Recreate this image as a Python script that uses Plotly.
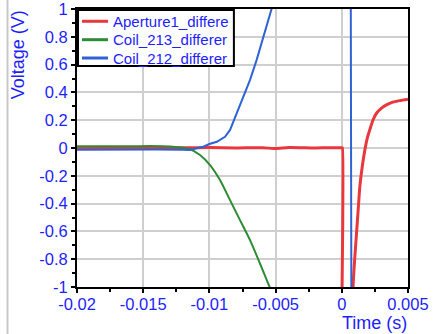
import plotly.graph_objects as go

# ---- data ----
red_t = [-0.02, -0.018, -0.016, -0.014, -0.012, -0.010, -0.008, -0.006, -0.005, -0.004,
         -0.002, -0.001, 0.0, 0.00005, 0.00015, 0.0005, 0.00085, 0.00098, 0.00111,
         0.00124, 0.00136, 0.00155, 0.00174, 0.00192, 0.00211, 0.00235, 0.00262,
         0.00298, 0.00337, 0.00385, 0.00437, 0.005]
red_v = [0.0, 0.003, 0.0, 0.004, 0.002, 0.003, 0.0, 0.002, -0.004, 0.003,
         0.0, 0.002, 0.001, 0.0, -3.0, -3.0, -1.0, -0.79, -0.615,
         -0.44, -0.279, -0.13, -0.014, 0.07, 0.13, 0.2, 0.25,
         0.285, 0.31, 0.33, 0.341, 0.351]

green_t = [-0.02, -0.018, -0.016, -0.01447, -0.01297, -0.01146, -0.01071, -0.00995,
           -0.0092, -0.00844, -0.00769, -0.00693, -0.00618, -0.00548, -0.005, -0.003]
green_v = [0.012, 0.013, 0.012, 0.014, 0.01, -0.009, -0.05, -0.123,
           -0.231, -0.375, -0.519, -0.663, -0.831, -0.993, -1.1, -3.0]

blue_t = [-0.02, -0.018, -0.016, -0.014, -0.012, -0.0115, -0.01046, -0.0100, -0.00944,
          -0.00882, -0.00844, -0.00794, -0.00744, -0.00693, -0.00643, -0.00593,
          -0.00543, -0.0050, -0.004, 0.0006, 0.0008, 0.001, 0.005]
blue_v = [-0.012, -0.01, -0.013, -0.011, -0.012, -0.014, 0.009, 0.029, 0.045,
          0.081, 0.13, 0.25, 0.37, 0.49, 0.634, 0.80,
          0.947, 1.1, 2.0, 5.0, -5.0, -5.0, -5.0]

series_names = ["Aperture1_differe", "Coil_213_differer", "Coil_212_differer"]
series_colors = ["#e8383d", "#2e8b35", "#2f62d4"]
series_widths = [3, 2, 2]

x_tickvals = [-0.02, -0.015, -0.01, -0.005, 0.0, 0.005]
x_ticktext = ["-0.02", "-0.015", "-0.01", "-0.005", "0", "0.005"]
y_tickvals = [1, 0.8, 0.6, 0.4, 0.2, 0, -0.2, -0.4, -0.6, -0.8, -1]
y_ticktext = ["1", "0.8", "0.6", "0.4", "0.2", "0", "-0.2", "-0.4", "-0.6", "-0.8", "-1"]

FONT = "Liberation Sans, Arial, sans-serif"
LABEL_BLUE = "#1e1eff"

fig = go.Figure()
for (t, v), name, col, w, shp in zip([(red_t, red_v), (green_t, green_v), (blue_t, blue_v)],
                                     series_names, series_colors, series_widths,
                                     ["spline", "spline", "linear"]):
    fig.add_trace(go.Scatter(x=t, y=v, mode="lines", name=name, showlegend=False,
                             line=dict(color=col, width=w, shape=shp,
                                       **({"smoothing": 0.6} if shp == "spline" else {}))))

axis_common = dict(
    showline=True, linecolor="black", linewidth=2, mirror=True,
    showgrid=True, gridcolor="#cfcfcf", gridwidth=1.5, zeroline=False,
    ticks="outside", ticklen=4, tickwidth=2, tickcolor="black",
    tickfont=dict(family=FONT, size=16.5, color=LABEL_BLUE),
    automargin=False, ticklabeloverflow="allow",
)

fig.update_xaxes(range=[-0.02, 0.005], tickvals=x_tickvals, ticktext=x_ticktext,
                 ticklabelstandoff=-3,
                 minor=dict(ticks="outside", ticklen=3, tickwidth=2, tickcolor="black",
                            dtick=0.0025, tick0=0, showgrid=False),
                 **axis_common)
fig.update_yaxes(range=[-1, 1], tickvals=y_tickvals, ticktext=y_ticktext,
                 minor=dict(ticks="outside", ticklen=3, tickwidth=2, tickcolor="black",
                            dtick=0.1, tick0=0, showgrid=False),
                 **axis_common)

fig.add_annotation(text="Voltage (V)", xref="paper", yref="paper", x=-0.18, y=0.835,
                   xanchor="center", yanchor="middle",
                   textangle=-90, showarrow=False,
                   font=dict(family=FONT, size=18, color=LABEL_BLUE))
fig.add_annotation(text="Time (s)", xref="paper", yref="paper", x=0.898, y=-0.13,
                   xanchor="center", yanchor="middle",
                   showarrow=False, font=dict(family=FONT, size=18, color=LABEL_BLUE))

# window edge line at the far left
fig.add_shape(type="line", xref="paper", yref="paper", x0=-0.21, x1=-0.21,
              y0=-0.18, y1=1.04, line=dict(color="#c8c8c8", width=2))

# legend box (drawn so that its compact row spacing matches the reference)
fig.add_shape(type="rect", xref="paper", yref="paper", x0=0.003, x1=0.474,
              y0=0.795, y1=0.996, line=dict(color="black", width=2), fillcolor="white",
              layer="above")
row_y = [0.9558, 0.8896, 0.8237]
for name, col, ry in zip(series_names, series_colors, row_y):
    fig.add_shape(type="line", xref="paper", yref="paper", x0=0.0151, x1=0.0937,
                  y0=ry, y1=ry, line=dict(color=col, width=3), layer="above")
    fig.add_annotation(text=name, xref="paper", yref="paper", x=0.104, y=ry,
                       xanchor="left", yanchor="middle", showarrow=False,
                       font=dict(family=FONT, size=15, color=LABEL_BLUE))

fig.update_layout(
    width=433, height=334,
    margin=dict(l=77, r=25, t=9, b=47, autoexpand=False),
    plot_bgcolor="white", paper_bgcolor="white",
    showlegend=False,
)

fig.write_html("out.html")
